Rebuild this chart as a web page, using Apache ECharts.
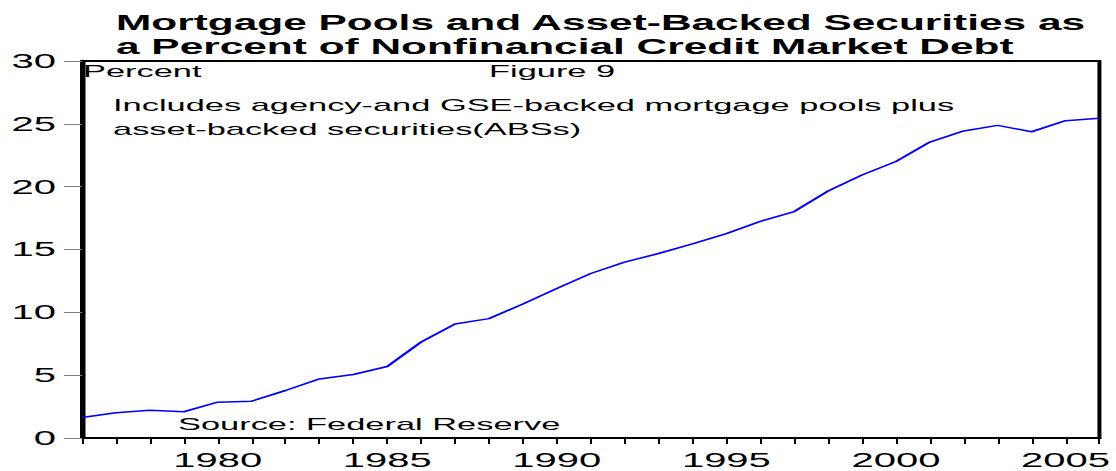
<!DOCTYPE html>
<html>
<head>
<meta charset="utf-8">
<script src="https://cdn.jsdelivr.net/npm/echarts@6/dist/echarts.min.js"></script>
<style>
  html, body { margin: 0; padding: 0; background: #fff; overflow: hidden; }
  #chart { width: 558px; height: 471px; transform: scaleX(2); transform-origin: 0 0; }
</style>
</head>
<body>
<div id="chart"></div>
<script>
// Data
const years = [1976, 1977, 1978, 1979, 1980, 1981, 1982, 1983, 1984, 1985, 1986, 1987, 1988, 1989, 1990,
               1991, 1992, 1993, 1994, 1995, 1996, 1997, 1998, 1999, 2000, 2001, 2002, 2003, 2004, 2005, 2006];
const shares = [1.63, 2.01, 2.2, 2.09, 2.85, 2.93, 3.78, 4.7, 5.05, 5.69, 7.64, 9.07, 9.5, 10.66, 11.9,
                13.09, 14.0, 14.68, 15.44, 16.27, 17.23, 18.02, 19.65, 20.93, 22.0, 23.55, 24.43, 24.88, 24.37, 25.25, 25.44];
const xLabelYears = [1980, 1985, 1990, 1995, 2000, 2005];
const yTicks = [0, 5, 10, 15, 20, 25, 30];

const titleText = 'Mortgage Pools and Asset-Backed Securities as\na Percent of Nonfinancial Credit Market Debt';
const FONT = 'Liberation Sans, Arial, sans-serif';

const chart = echarts.init(document.getElementById('chart'), null, { renderer: 'svg' });

const seriesData = years.map((y, i) => [y, shares[i]]);

const note = (text, x, y) => ({
  type: 'text', left: x, top: y - 10,
  style: { text: text, font: '17.2px ' + FONT, fill: '#000', lineHeight: 20 }
});

chart.setOption({
  animation: false,
  backgroundColor: '#fff',
  title: {
    text: titleText,
    left: 53, top: 6,
    textStyle: { fontFamily: FONT, fontSize: 21.2, fontWeight: 'bold', color: '#000', lineHeight: 24 }
  },
  grid: { left: 41, right: 6, top: 61, bottom: 33, show: true, borderColor: '#000', borderWidth: 2 },
  xAxis: {
    type: 'value',
    min: years[0], max: years[years.length - 1], interval: 1,
    axisLine: { show: true, onZero: false, lineStyle: { color: '#000', width: 2 } },
    axisTick: { show: true, inside: false, length: 6, lineStyle: { color: '#000', width: 1 } },
    axisLabel: {
      margin: 12, fontFamily: FONT, fontSize: 20, color: '#000',
      showMinLabel: true, showMaxLabel: true,
      formatter: v => xLabelYears.indexOf(v) >= 0 ? String(v) : ''
    },
    splitLine: { show: false }
  },
  yAxis: {
    type: 'value',
    min: yTicks[0], max: yTicks[yTicks.length - 1], interval: 5,
    axisLine: { show: true, lineStyle: { color: '#000', width: 2.5 } },
    axisTick: { show: true, inside: false, length: 9, lineStyle: { color: '#808080', width: 1 } },
    axisLabel: { margin: 13, fontFamily: FONT, fontSize: 20, color: '#000' },
    splitLine: { show: false }
  },
  graphic: [
    note('Percent', 41.5, 71.5),
    note('Figure 9', 244.5, 71.5),
    note('Includes agency-and GSE-backed mortgage pools plus', 56.5, 105.5),
    note('asset-backed securities(ABSs)', 56.5, 129.5),
    note('Source: Federal Reserve', 89, 424.5)
  ],
  series: [{
    type: 'line',
    data: seriesData,
    showSymbol: false,
    symbol: 'none',
    lineStyle: { color: '#0000ff', width: 1.5 },
    z: 3
  }]
});
</script>
</body>
</html>
